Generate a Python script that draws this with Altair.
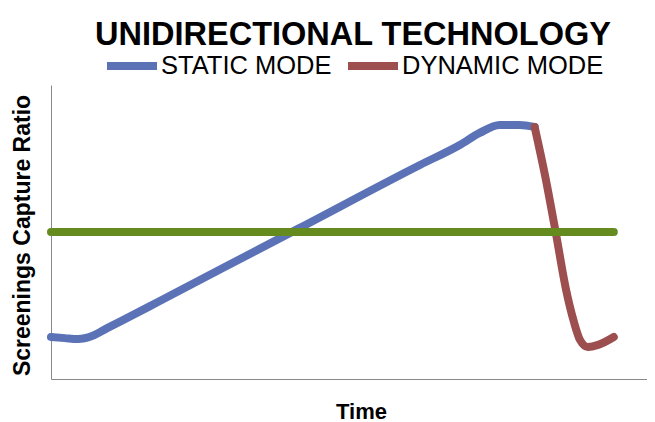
import altair as alt
import pandas as pd

# Static mode (blue) series
static_x = [0, 2.3, 4.5, 6.8, 9.3, 13.6, 17.7, 41.2, 61.1, 67.7, 71.0, 74.3, 77.6, 80.1]
static_y = [14.3, 13.9, 13.6, 14.6, 17.3, 21.8, 26.2, 51.4, 72.8, 79.6, 83.7, 86.4, 86.4, 85.7]

# Dynamic mode (red) series
dynamic_x = [80.1, 81.8, 83.6, 85.3, 86.6, 87.6, 88.9, 90.6, 93.2]
dynamic_y = [85.7, 69.4, 49.7, 30.3, 19.4, 13.3, 10.9, 11.6, 14.3]

# Threshold (green) line
threshold_x = [0, 93.2]
threshold_y = [50, 50]

series_names = ["STATIC MODE", "DYNAMIC MODE"]
series_colors = ["#5B73B6", "#9D4E4E"]
threshold_color = "#658A1E"

rows = []
for x, y in zip(static_x, static_y):
    rows.append({"t": x, "v": y, "series": "STATIC MODE"})
for x, y in zip(dynamic_x, dynamic_y):
    rows.append({"t": x, "v": y, "series": "DYNAMIC MODE"})
df = pd.DataFrame(rows)
df_thr = pd.DataFrame({"t": threshold_x, "v": threshold_y})

xscale = alt.Scale(domain=[0, 98.7], nice=False)
yscale = alt.Scale(domain=[0, 100], nice=False)

x_axis = alt.Axis(
    title="Time", labels=False, ticks=False, grid=False, domain=True,
    domainColor="#898989", domainWidth=1,
    titleFont="Liberation Sans", titleFontSize=22, titleFontWeight="bold",
    titleColor="#000000", titleBaseline="alphabetic", titleX=310, titleY=39,
)
y_axis = alt.Axis(
    title="Screenings Capture Ratio", labels=False, ticks=False, grid=False, domain=True,
    domainColor="#898989", domainWidth=1,
    titleFont="Liberation Sans", titleFontSize=23, titleFontWeight="bold",
    titleColor="#000000", titleBaseline="alphabetic", titleAngle=270,
    titleX=-22, titleY=150,
)

lines = alt.Chart(df).mark_line(strokeWidth=8, strokeCap="round", interpolate="monotone").encode(
    x=alt.X("t:Q", scale=xscale, axis=x_axis),
    y=alt.Y("v:Q", scale=yscale, axis=y_axis),
    color=alt.Color(
        "series:N",
        scale=alt.Scale(domain=series_names, range=series_colors),
        sort=series_names,
        legend=alt.Legend(
            title=None, orient="none", direction="horizontal",
            legendX=52, legendY=-48, padding=0,
            symbolType="stroke", symbolSize=2500, symbolStrokeWidth=8,
            labelFont="Liberation Sans", labelFontSize=25.5, labelColor="#000000",
            labelOffset=0, columnPadding=0, labelLimit=400,
        ),
    ),
    detail="series:N",
)

thr = alt.Chart(df_thr).mark_line(strokeWidth=8, strokeCap="round", color=threshold_color).encode(
    x=alt.X("t:Q", scale=xscale),
    y=alt.Y("v:Q", scale=yscale),
)

chart = alt.layer(lines, thr).properties(
    width=596, height=294,
    padding={"left": 43, "top": 77, "right": 0, "bottom": 43},
    autosize=alt.AutoSizeParams(type="none"),
    title=alt.TitleParams(
        "UNIDIRECTIONAL TECHNOLOGY", font="Liberation Sans", fontSize=32.5,
        fontWeight="bold", color="#000000", anchor="middle", frame="group",
        dx=4, offset=-14,
    ),
).configure_view(stroke=None)

chart.save("out.html", embed_options={"renderer": "svg", "actions": False})
